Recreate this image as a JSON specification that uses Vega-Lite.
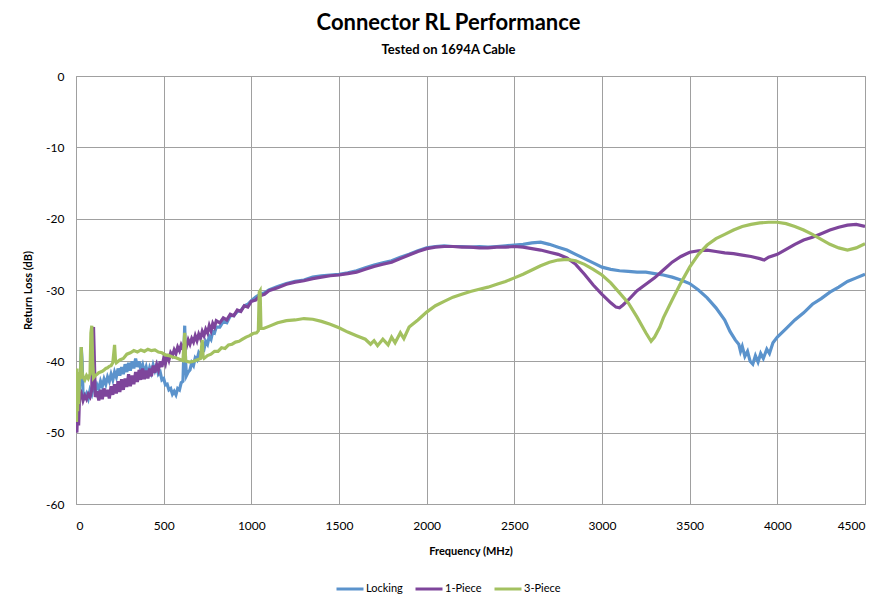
{
  "$schema": "https://vega.github.io/schema/vega-lite/v6.json",
  "width": 789,
  "height": 428,
  "autosize": "none",
  "padding": {"left": 76, "top": 76, "right": 26, "bottom": 99},
  "background": "white",
  "config": {
    "font": "Lato",
    "view": {"stroke": "#a0a0a0", "strokeWidth": 1}
  },
  "title": {
    "text": "Connector RL Performance",
    "subtitle": "Tested on 1694A Cable",
    "font": "Lato",
    "fontSize": 22,
    "fontWeight": "bold",
    "color": "black",
    "subtitleFont": "Lato",
    "subtitleFontSize": 13,
    "subtitleFontWeight": "bold",
    "subtitleColor": "black",
    "subtitlePadding": 9,
    "anchor": "middle",
    "dx": -22,
    "offset": 12
  },
  "data": {"values": [
    {"s":"Locking","f":0,"v":-43},{"s":"Locking","f":5,"v":-48},{"s":"Locking","f":10,"v":-44},{"s":"Locking","f":15,"v":-46},{"s":"Locking","f":20,"v":-43.5},{"s":"Locking","f":25,"v":-42},{"s":"Locking","f":30,"v":-38},{"s":"Locking","f":35,"v":-40},{"s":"Locking","f":40,"v":-44.5},{"s":"Locking","f":50,"v":-45},{"s":"Locking","f":60,"v":-44.5},{"s":"Locking","f":70,"v":-45.2},{"s":"Locking","f":80,"v":-44},{"s":"Locking","f":90,"v":-44.6},{"s":"Locking","f":100,"v":-43.5},{"s":"Locking","f":110,"v":-44.2},{"s":"Locking","f":120,"v":-43.3},{"s":"Locking","f":130,"v":-43.9},{"s":"Locking","f":140,"v":-42.8},{"s":"Locking","f":150,"v":-43.5},{"s":"Locking","f":160,"v":-42.5},{"s":"Locking","f":170,"v":-43.2},{"s":"Locking","f":180,"v":-42.2},{"s":"Locking","f":190,"v":-42.8},{"s":"Locking","f":200,"v":-41.8},{"s":"Locking","f":210,"v":-42.6},{"s":"Locking","f":220,"v":-41.5},{"s":"Locking","f":230,"v":-42.2},{"s":"Locking","f":240,"v":-41},{"s":"Locking","f":250,"v":-42},{"s":"Locking","f":260,"v":-40.8},{"s":"Locking","f":270,"v":-41.8},{"s":"Locking","f":280,"v":-40.4},{"s":"Locking","f":290,"v":-41.5},{"s":"Locking","f":300,"v":-40.2},{"s":"Locking","f":310,"v":-41.3},{"s":"Locking","f":320,"v":-40},{"s":"Locking","f":330,"v":-41},{"s":"Locking","f":340,"v":-39.6},{"s":"Locking","f":350,"v":-40.8},{"s":"Locking","f":360,"v":-40},{"s":"Locking","f":370,"v":-41.2},{"s":"Locking","f":380,"v":-40.5},{"s":"Locking","f":390,"v":-41.6},{"s":"Locking","f":400,"v":-40.8},{"s":"Locking","f":410,"v":-41.9},{"s":"Locking","f":420,"v":-40.9},{"s":"Locking","f":430,"v":-41.6},{"s":"Locking","f":440,"v":-40.5},{"s":"Locking","f":450,"v":-41.3},{"s":"Locking","f":460,"v":-40.6},{"s":"Locking","f":470,"v":-41.8},{"s":"Locking","f":480,"v":-41.5},{"s":"Locking","f":490,"v":-42.6},{"s":"Locking","f":500,"v":-42.4},{"s":"Locking","f":510,"v":-43.3},{"s":"Locking","f":520,"v":-43.2},{"s":"Locking","f":530,"v":-44},{"s":"Locking","f":540,"v":-43.8},{"s":"Locking","f":550,"v":-44.6},{"s":"Locking","f":560,"v":-44.2},{"s":"Locking","f":570,"v":-44.7},{"s":"Locking","f":580,"v":-43.8},{"s":"Locking","f":590,"v":-44},{"s":"Locking","f":600,"v":-43},{"s":"Locking","f":610,"v":-42.8},{"s":"Locking","f":620,"v":-35},{"s":"Locking","f":625,"v":-40},{"s":"Locking","f":630,"v":-42},{"s":"Locking","f":640,"v":-41.5},{"s":"Locking","f":650,"v":-41.2},{"s":"Locking","f":660,"v":-40.2},{"s":"Locking","f":670,"v":-40.6},{"s":"Locking","f":680,"v":-39.5},{"s":"Locking","f":690,"v":-39.8},{"s":"Locking","f":700,"v":-38.8},{"s":"Locking","f":710,"v":-39.2},{"s":"Locking","f":720,"v":-38},{"s":"Locking","f":730,"v":-38.3},{"s":"Locking","f":740,"v":-37.2},{"s":"Locking","f":750,"v":-37.6},{"s":"Locking","f":760,"v":-36.5},{"s":"Locking","f":770,"v":-36.9},{"s":"Locking","f":780,"v":-35.8},{"s":"Locking","f":790,"v":-36},{"s":"Locking","f":800,"v":-35.2},{"s":"Locking","f":820,"v":-35.2},{"s":"Locking","f":840,"v":-34.4},{"s":"Locking","f":860,"v":-34.6},{"s":"Locking","f":880,"v":-33.6},{"s":"Locking","f":900,"v":-33.6},{"s":"Locking","f":920,"v":-33},{"s":"Locking","f":940,"v":-32.9},{"s":"Locking","f":960,"v":-32.2},{"s":"Locking","f":980,"v":-32},{"s":"Locking","f":1000,"v":-31.5},{"s":"Locking","f":1025,"v":-31},{"s":"Locking","f":1050,"v":-30.6},{"s":"Locking","f":1075,"v":-30.4},{"s":"Locking","f":1100,"v":-30},{"s":"Locking","f":1150,"v":-29.5},{"s":"Locking","f":1200,"v":-29.1},{"s":"Locking","f":1250,"v":-28.8},{"s":"Locking","f":1300,"v":-28.6},{"s":"Locking","f":1350,"v":-28.2},{"s":"Locking","f":1400,"v":-28},{"s":"Locking","f":1450,"v":-27.9},{"s":"Locking","f":1500,"v":-27.8},{"s":"Locking","f":1550,"v":-27.6},{"s":"Locking","f":1600,"v":-27.3},{"s":"Locking","f":1650,"v":-26.9},{"s":"Locking","f":1700,"v":-26.5},{"s":"Locking","f":1750,"v":-26.2},{"s":"Locking","f":1800,"v":-25.9},{"s":"Locking","f":1850,"v":-25.4},{"s":"Locking","f":1900,"v":-25},{"s":"Locking","f":1950,"v":-24.5},{"s":"Locking","f":2000,"v":-24.1},{"s":"Locking","f":2050,"v":-23.9},{"s":"Locking","f":2100,"v":-23.8},{"s":"Locking","f":2150,"v":-23.9},{"s":"Locking","f":2200,"v":-23.9},{"s":"Locking","f":2250,"v":-24},{"s":"Locking","f":2300,"v":-23.9},{"s":"Locking","f":2350,"v":-24},{"s":"Locking","f":2400,"v":-23.9},{"s":"Locking","f":2450,"v":-23.8},{"s":"Locking","f":2500,"v":-23.7},{"s":"Locking","f":2550,"v":-23.6},{"s":"Locking","f":2600,"v":-23.4},{"s":"Locking","f":2650,"v":-23.3},{"s":"Locking","f":2700,"v":-23.6},{"s":"Locking","f":2750,"v":-24},{"s":"Locking","f":2800,"v":-24.4},{"s":"Locking","f":2850,"v":-25},{"s":"Locking","f":2900,"v":-25.6},{"s":"Locking","f":2950,"v":-26.2},{"s":"Locking","f":3000,"v":-26.8},{"s":"Locking","f":3050,"v":-27.1},{"s":"Locking","f":3100,"v":-27.3},{"s":"Locking","f":3150,"v":-27.4},{"s":"Locking","f":3200,"v":-27.5},{"s":"Locking","f":3250,"v":-27.5},{"s":"Locking","f":3300,"v":-27.7},{"s":"Locking","f":3350,"v":-27.9},{"s":"Locking","f":3400,"v":-28.2},{"s":"Locking","f":3450,"v":-28.6},{"s":"Locking","f":3500,"v":-29.1},{"s":"Locking","f":3550,"v":-30},{"s":"Locking","f":3600,"v":-31.1},{"s":"Locking","f":3650,"v":-32.5},{"s":"Locking","f":3700,"v":-34.2},{"s":"Locking","f":3730,"v":-35.8},{"s":"Locking","f":3760,"v":-37},{"s":"Locking","f":3780,"v":-37.6},{"s":"Locking","f":3790,"v":-38.6},{"s":"Locking","f":3800,"v":-37.9},{"s":"Locking","f":3815,"v":-39.3},{"s":"Locking","f":3830,"v":-38.6},{"s":"Locking","f":3845,"v":-40},{"s":"Locking","f":3860,"v":-40.4},{"s":"Locking","f":3875,"v":-39.2},{"s":"Locking","f":3890,"v":-40.1},{"s":"Locking","f":3905,"v":-38.9},{"s":"Locking","f":3920,"v":-39.6},{"s":"Locking","f":3940,"v":-38.3},{"s":"Locking","f":3955,"v":-38.9},{"s":"Locking","f":3975,"v":-37.4},{"s":"Locking","f":4000,"v":-36.6},{"s":"Locking","f":4050,"v":-35.4},{"s":"Locking","f":4100,"v":-34.2},{"s":"Locking","f":4150,"v":-33.2},{"s":"Locking","f":4200,"v":-32},{"s":"Locking","f":4250,"v":-31.2},{"s":"Locking","f":4300,"v":-30.3},{"s":"Locking","f":4350,"v":-29.6},{"s":"Locking","f":4400,"v":-28.8},{"s":"Locking","f":4450,"v":-28.3},{"s":"Locking","f":4500,"v":-27.8},

    {"s":"1-Piece","f":0,"v":-47},{"s":"1-Piece","f":5,"v":-50},{"s":"1-Piece","f":10,"v":-46},{"s":"1-Piece","f":15,"v":-49},{"s":"1-Piece","f":20,"v":-45},{"s":"1-Piece","f":30,"v":-44.5},{"s":"1-Piece","f":40,"v":-45.5},{"s":"1-Piece","f":50,"v":-44.8},{"s":"1-Piece","f":60,"v":-45.3},{"s":"1-Piece","f":70,"v":-44.6},{"s":"1-Piece","f":80,"v":-45},{"s":"1-Piece","f":90,"v":-44},{"s":"1-Piece","f":95,"v":-36},{"s":"1-Piece","f":100,"v":-35.2},{"s":"1-Piece","f":105,"v":-40},{"s":"1-Piece","f":110,"v":-45},{"s":"1-Piece","f":120,"v":-44.2},{"s":"1-Piece","f":130,"v":-45.5},{"s":"1-Piece","f":140,"v":-44},{"s":"1-Piece","f":150,"v":-45.3},{"s":"1-Piece","f":160,"v":-43.8},{"s":"1-Piece","f":170,"v":-44.9},{"s":"1-Piece","f":180,"v":-44},{"s":"1-Piece","f":190,"v":-45.2},{"s":"1-Piece","f":200,"v":-43.5},{"s":"1-Piece","f":210,"v":-44.7},{"s":"1-Piece","f":220,"v":-43.2},{"s":"1-Piece","f":230,"v":-44.5},{"s":"1-Piece","f":240,"v":-42.8},{"s":"1-Piece","f":250,"v":-44.3},{"s":"1-Piece","f":260,"v":-42.5},{"s":"1-Piece","f":270,"v":-44},{"s":"1-Piece","f":280,"v":-42.4},{"s":"1-Piece","f":290,"v":-43.6},{"s":"1-Piece","f":300,"v":-41.8},{"s":"1-Piece","f":310,"v":-43.5},{"s":"1-Piece","f":320,"v":-42},{"s":"1-Piece","f":330,"v":-43.2},{"s":"1-Piece","f":340,"v":-41.5},{"s":"1-Piece","f":350,"v":-42.9},{"s":"1-Piece","f":360,"v":-41.2},{"s":"1-Piece","f":370,"v":-42.6},{"s":"1-Piece","f":380,"v":-41},{"s":"1-Piece","f":390,"v":-42.5},{"s":"1-Piece","f":400,"v":-41.3},{"s":"1-Piece","f":410,"v":-42.4},{"s":"1-Piece","f":420,"v":-41},{"s":"1-Piece","f":430,"v":-42.1},{"s":"1-Piece","f":440,"v":-40.6},{"s":"1-Piece","f":450,"v":-41.6},{"s":"1-Piece","f":460,"v":-40.5},{"s":"1-Piece","f":470,"v":-41.2},{"s":"1-Piece","f":480,"v":-40},{"s":"1-Piece","f":490,"v":-40.8},{"s":"1-Piece","f":500,"v":-39.6},{"s":"1-Piece","f":510,"v":-40.3},{"s":"1-Piece","f":520,"v":-39},{"s":"1-Piece","f":530,"v":-39.8},{"s":"1-Piece","f":540,"v":-38.8},{"s":"1-Piece","f":550,"v":-39.2},{"s":"1-Piece","f":560,"v":-38.4},{"s":"1-Piece","f":570,"v":-38.9},{"s":"1-Piece","f":580,"v":-38},{"s":"1-Piece","f":590,"v":-38.5},{"s":"1-Piece","f":600,"v":-37.7},{"s":"1-Piece","f":610,"v":-38.2},{"s":"1-Piece","f":620,"v":-37.4},{"s":"1-Piece","f":630,"v":-37.9},{"s":"1-Piece","f":640,"v":-37},{"s":"1-Piece","f":650,"v":-37.6},{"s":"1-Piece","f":660,"v":-36.8},{"s":"1-Piece","f":670,"v":-37.3},{"s":"1-Piece","f":680,"v":-36.4},{"s":"1-Piece","f":690,"v":-37.1},{"s":"1-Piece","f":700,"v":-36.2},{"s":"1-Piece","f":710,"v":-36.8},{"s":"1-Piece","f":720,"v":-35.8},{"s":"1-Piece","f":730,"v":-36.4},{"s":"1-Piece","f":740,"v":-35.5},{"s":"1-Piece","f":750,"v":-36},{"s":"1-Piece","f":760,"v":-35},{"s":"1-Piece","f":770,"v":-35.7},{"s":"1-Piece","f":780,"v":-34.7},{"s":"1-Piece","f":790,"v":-35.2},{"s":"1-Piece","f":800,"v":-34.3},{"s":"1-Piece","f":820,"v":-34.6},{"s":"1-Piece","f":840,"v":-33.9},{"s":"1-Piece","f":860,"v":-34.2},{"s":"1-Piece","f":880,"v":-33.4},{"s":"1-Piece","f":900,"v":-33.6},{"s":"1-Piece","f":920,"v":-32.8},{"s":"1-Piece","f":940,"v":-33},{"s":"1-Piece","f":960,"v":-32.2},{"s":"1-Piece","f":980,"v":-32.4},{"s":"1-Piece","f":1000,"v":-31.6},{"s":"1-Piece","f":1025,"v":-31.4},{"s":"1-Piece","f":1050,"v":-30.8},{"s":"1-Piece","f":1075,"v":-30.6},{"s":"1-Piece","f":1100,"v":-30.1},{"s":"1-Piece","f":1150,"v":-29.7},{"s":"1-Piece","f":1200,"v":-29.2},{"s":"1-Piece","f":1250,"v":-28.9},{"s":"1-Piece","f":1300,"v":-28.7},{"s":"1-Piece","f":1350,"v":-28.4},{"s":"1-Piece","f":1400,"v":-28.2},{"s":"1-Piece","f":1450,"v":-28},{"s":"1-Piece","f":1500,"v":-27.9},{"s":"1-Piece","f":1550,"v":-27.7},{"s":"1-Piece","f":1600,"v":-27.5},{"s":"1-Piece","f":1650,"v":-27.1},{"s":"1-Piece","f":1700,"v":-26.7},{"s":"1-Piece","f":1750,"v":-26.4},{"s":"1-Piece","f":1800,"v":-26.1},{"s":"1-Piece","f":1850,"v":-25.6},{"s":"1-Piece","f":1900,"v":-25.1},{"s":"1-Piece","f":1950,"v":-24.6},{"s":"1-Piece","f":2000,"v":-24.2},{"s":"1-Piece","f":2050,"v":-24},{"s":"1-Piece","f":2100,"v":-23.9},{"s":"1-Piece","f":2150,"v":-23.9},{"s":"1-Piece","f":2200,"v":-24},{"s":"1-Piece","f":2250,"v":-24},{"s":"1-Piece","f":2300,"v":-24.1},{"s":"1-Piece","f":2350,"v":-24.1},{"s":"1-Piece","f":2400,"v":-24},{"s":"1-Piece","f":2450,"v":-24},{"s":"1-Piece","f":2500,"v":-23.9},{"s":"1-Piece","f":2550,"v":-24},{"s":"1-Piece","f":2600,"v":-24.2},{"s":"1-Piece","f":2650,"v":-24.4},{"s":"1-Piece","f":2700,"v":-24.7},{"s":"1-Piece","f":2750,"v":-25},{"s":"1-Piece","f":2800,"v":-25.5},{"s":"1-Piece","f":2850,"v":-26.4},{"s":"1-Piece","f":2900,"v":-27.8},{"s":"1-Piece","f":2950,"v":-29.3},{"s":"1-Piece","f":3000,"v":-30.6},{"s":"1-Piece","f":3050,"v":-31.8},{"s":"1-Piece","f":3080,"v":-32.4},{"s":"1-Piece","f":3100,"v":-32.5},{"s":"1-Piece","f":3120,"v":-32.1},{"s":"1-Piece","f":3150,"v":-31.4},{"s":"1-Piece","f":3200,"v":-30.1},{"s":"1-Piece","f":3250,"v":-29.2},{"s":"1-Piece","f":3300,"v":-28.3},{"s":"1-Piece","f":3350,"v":-27.2},{"s":"1-Piece","f":3400,"v":-26.1},{"s":"1-Piece","f":3450,"v":-25.3},{"s":"1-Piece","f":3500,"v":-24.7},{"s":"1-Piece","f":3550,"v":-24.5},{"s":"1-Piece","f":3600,"v":-24.4},{"s":"1-Piece","f":3650,"v":-24.6},{"s":"1-Piece","f":3700,"v":-24.8},{"s":"1-Piece","f":3750,"v":-24.9},{"s":"1-Piece","f":3800,"v":-25.1},{"s":"1-Piece","f":3850,"v":-25.3},{"s":"1-Piece","f":3900,"v":-25.6},{"s":"1-Piece","f":3925,"v":-25.8},{"s":"1-Piece","f":3950,"v":-25.4},{"s":"1-Piece","f":4000,"v":-25},{"s":"1-Piece","f":4050,"v":-24.3},{"s":"1-Piece","f":4100,"v":-23.6},{"s":"1-Piece","f":4150,"v":-23},{"s":"1-Piece","f":4200,"v":-22.6},{"s":"1-Piece","f":4250,"v":-22.1},{"s":"1-Piece","f":4300,"v":-21.6},{"s":"1-Piece","f":4350,"v":-21.2},{"s":"1-Piece","f":4400,"v":-20.9},{"s":"1-Piece","f":4450,"v":-20.8},{"s":"1-Piece","f":4500,"v":-21.1},

    {"s":"3-Piece","f":0,"v":-42},{"s":"3-Piece","f":3,"v":-48.5},{"s":"3-Piece","f":6,"v":-41},{"s":"3-Piece","f":9,"v":-47},{"s":"3-Piece","f":12,"v":-43},{"s":"3-Piece","f":15,"v":-46},{"s":"3-Piece","f":20,"v":-41.5},{"s":"3-Piece","f":25,"v":-42.5},{"s":"3-Piece","f":30,"v":-38},{"s":"3-Piece","f":35,"v":-41.5},{"s":"3-Piece","f":40,"v":-42.2},{"s":"3-Piece","f":50,"v":-42.6},{"s":"3-Piece","f":60,"v":-42},{"s":"3-Piece","f":70,"v":-42.4},{"s":"3-Piece","f":80,"v":-41.8},{"s":"3-Piece","f":85,"v":-36},{"s":"3-Piece","f":90,"v":-35},{"s":"3-Piece","f":95,"v":-40},{"s":"3-Piece","f":100,"v":-42.3},{"s":"3-Piece","f":110,"v":-42},{"s":"3-Piece","f":120,"v":-41.8},{"s":"3-Piece","f":130,"v":-41.6},{"s":"3-Piece","f":140,"v":-41.5},{"s":"3-Piece","f":150,"v":-41.4},{"s":"3-Piece","f":160,"v":-41.2},{"s":"3-Piece","f":170,"v":-41},{"s":"3-Piece","f":180,"v":-40.9},{"s":"3-Piece","f":190,"v":-40.7},{"s":"3-Piece","f":200,"v":-40.6},{"s":"3-Piece","f":210,"v":-40.2},{"s":"3-Piece","f":220,"v":-37.7},{"s":"3-Piece","f":225,"v":-39.8},{"s":"3-Piece","f":230,"v":-40.2},{"s":"3-Piece","f":250,"v":-39.8},{"s":"3-Piece","f":270,"v":-39.6},{"s":"3-Piece","f":290,"v":-39},{"s":"3-Piece","f":310,"v":-38.8},{"s":"3-Piece","f":330,"v":-38.5},{"s":"3-Piece","f":350,"v":-38.7},{"s":"3-Piece","f":370,"v":-38.4},{"s":"3-Piece","f":390,"v":-38.6},{"s":"3-Piece","f":410,"v":-38.3},{"s":"3-Piece","f":430,"v":-38.5},{"s":"3-Piece","f":450,"v":-38.4},{"s":"3-Piece","f":470,"v":-38.7},{"s":"3-Piece","f":490,"v":-38.8},{"s":"3-Piece","f":510,"v":-39.1},{"s":"3-Piece","f":530,"v":-39.2},{"s":"3-Piece","f":550,"v":-39.4},{"s":"3-Piece","f":570,"v":-39.5},{"s":"3-Piece","f":590,"v":-39.7},{"s":"3-Piece","f":610,"v":-39.9},{"s":"3-Piece","f":620,"v":-36},{"s":"3-Piece","f":625,"v":-39.8},{"s":"3-Piece","f":630,"v":-40},{"s":"3-Piece","f":650,"v":-40.1},{"s":"3-Piece","f":670,"v":-40},{"s":"3-Piece","f":690,"v":-39.8},{"s":"3-Piece","f":710,"v":-39.6},{"s":"3-Piece","f":720,"v":-37},{"s":"3-Piece","f":725,"v":-39.4},{"s":"3-Piece","f":730,"v":-39.6},{"s":"3-Piece","f":750,"v":-39.2},{"s":"3-Piece","f":770,"v":-39},{"s":"3-Piece","f":790,"v":-38.6},{"s":"3-Piece","f":810,"v":-38.6},{"s":"3-Piece","f":830,"v":-38.1},{"s":"3-Piece","f":850,"v":-38.2},{"s":"3-Piece","f":870,"v":-37.7},{"s":"3-Piece","f":890,"v":-37.6},{"s":"3-Piece","f":910,"v":-37.3},{"s":"3-Piece","f":930,"v":-37.2},{"s":"3-Piece","f":950,"v":-36.9},{"s":"3-Piece","f":970,"v":-36.6},{"s":"3-Piece","f":990,"v":-36.4},{"s":"3-Piece","f":1010,"v":-36.1},{"s":"3-Piece","f":1030,"v":-36},{"s":"3-Piece","f":1040,"v":-35.7},{"s":"3-Piece","f":1045,"v":-30.3},{"s":"3-Piece","f":1050,"v":-30.1},{"s":"3-Piece","f":1055,"v":-35.4},{"s":"3-Piece","f":1070,"v":-35.4},{"s":"3-Piece","f":1100,"v":-35.1},{"s":"3-Piece","f":1150,"v":-34.6},{"s":"3-Piece","f":1200,"v":-34.3},{"s":"3-Piece","f":1250,"v":-34.2},{"s":"3-Piece","f":1300,"v":-34},{"s":"3-Piece","f":1350,"v":-34.1},{"s":"3-Piece","f":1400,"v":-34.4},{"s":"3-Piece","f":1450,"v":-34.8},{"s":"3-Piece","f":1500,"v":-35.3},{"s":"3-Piece","f":1550,"v":-35.9},{"s":"3-Piece","f":1600,"v":-36.4},{"s":"3-Piece","f":1650,"v":-36.9},{"s":"3-Piece","f":1680,"v":-37.6},{"s":"3-Piece","f":1700,"v":-37.1},{"s":"3-Piece","f":1720,"v":-37.8},{"s":"3-Piece","f":1750,"v":-36.9},{"s":"3-Piece","f":1780,"v":-37.7},{"s":"3-Piece","f":1800,"v":-36.6},{"s":"3-Piece","f":1820,"v":-37.4},{"s":"3-Piece","f":1850,"v":-36},{"s":"3-Piece","f":1870,"v":-36.8},{"s":"3-Piece","f":1900,"v":-35.2},{"s":"3-Piece","f":1950,"v":-34.2},{"s":"3-Piece","f":2000,"v":-33.1},{"s":"3-Piece","f":2050,"v":-32.2},{"s":"3-Piece","f":2100,"v":-31.6},{"s":"3-Piece","f":2150,"v":-31},{"s":"3-Piece","f":2200,"v":-30.6},{"s":"3-Piece","f":2250,"v":-30.2},{"s":"3-Piece","f":2300,"v":-29.9},{"s":"3-Piece","f":2350,"v":-29.6},{"s":"3-Piece","f":2400,"v":-29.2},{"s":"3-Piece","f":2450,"v":-28.8},{"s":"3-Piece","f":2500,"v":-28.3},{"s":"3-Piece","f":2550,"v":-27.8},{"s":"3-Piece","f":2600,"v":-27.2},{"s":"3-Piece","f":2650,"v":-26.6},{"s":"3-Piece","f":2700,"v":-26.1},{"s":"3-Piece","f":2750,"v":-25.8},{"s":"3-Piece","f":2800,"v":-25.7},{"s":"3-Piece","f":2850,"v":-25.9},{"s":"3-Piece","f":2900,"v":-26.4},{"s":"3-Piece","f":2950,"v":-27.1},{"s":"3-Piece","f":3000,"v":-27.9},{"s":"3-Piece","f":3050,"v":-29},{"s":"3-Piece","f":3100,"v":-30.4},{"s":"3-Piece","f":3150,"v":-31.8},{"s":"3-Piece","f":3200,"v":-33.8},{"s":"3-Piece","f":3250,"v":-36},{"s":"3-Piece","f":3280,"v":-37.2},{"s":"3-Piece","f":3300,"v":-36.6},{"s":"3-Piece","f":3330,"v":-35.2},{"s":"3-Piece","f":3350,"v":-33.9},{"s":"3-Piece","f":3400,"v":-31.4},{"s":"3-Piece","f":3450,"v":-29},{"s":"3-Piece","f":3500,"v":-26.8},{"s":"3-Piece","f":3550,"v":-25},{"s":"3-Piece","f":3600,"v":-23.7},{"s":"3-Piece","f":3650,"v":-22.8},{"s":"3-Piece","f":3700,"v":-22.2},{"s":"3-Piece","f":3750,"v":-21.6},{"s":"3-Piece","f":3800,"v":-21.1},{"s":"3-Piece","f":3850,"v":-20.8},{"s":"3-Piece","f":3900,"v":-20.6},{"s":"3-Piece","f":3950,"v":-20.5},{"s":"3-Piece","f":4000,"v":-20.5},{"s":"3-Piece","f":4050,"v":-20.7},{"s":"3-Piece","f":4100,"v":-21.1},{"s":"3-Piece","f":4150,"v":-21.6},{"s":"3-Piece","f":4200,"v":-22.2},{"s":"3-Piece","f":4250,"v":-22.9},{"s":"3-Piece","f":4300,"v":-23.6},{"s":"3-Piece","f":4350,"v":-24.1},{"s":"3-Piece","f":4400,"v":-24.4},{"s":"3-Piece","f":4450,"v":-24.1},{"s":"3-Piece","f":4500,"v":-23.5}
  ]},
  "mark": {"type": "line", "strokeWidth": 3.2, "clip": true},
  "encoding": {
    "x": {
      "field": "f", "type": "quantitative",
      "scale": {"domain": [0, 4500], "nice": false},
      "axis": {
        "title": "Frequency (MHz)",
        "values": [0, 500, 1000, 1500, 2000, 2500, 3000, 3500, 4000, 4500],
        "labelExpr": "datum.value + ''",
        "domain": false, "ticks": false,
        "labelFont": "Lato", "labelFontSize": 12, "labelColor": "black", "labelPadding": 16,
        "titleFont": "Lato", "titleFontSize": 11, "titleFontWeight": "bold", "titleColor": "black", "titlePadding": 14,
        "grid": true, "gridColor": "#a0a0a0", "gridWidth": 1
      }
    },
    "y": {
      "field": "v", "type": "quantitative",
      "scale": {"domain": [-60, 0], "nice": false},
      "axis": {
        "title": "Return Loss (dB)",
        "values": [-60, -50, -40, -30, -20, -10, 0],
        "labelExpr": "datum.value + ''",
        "domain": false, "ticks": false,
        "labelFont": "Lato", "labelFontSize": 12, "labelColor": "black", "labelPadding": 12,
        "titleFont": "Lato", "titleFontSize": 11, "titleFontWeight": "bold", "titleColor": "black", "titlePadding": 12,
        "grid": true, "gridColor": "#a0a0a0", "gridWidth": 1
      }
    },
    "color": {
      "field": "s", "type": "nominal",
      "scale": {"domain": ["Locking", "1-Piece", "3-Piece"], "range": ["#5b93cc", "#7e459b", "#a3c160"]},
      "legend": {
        "title": null,
        "orient": "none",
        "direction": "horizontal",
        "legendX": 259,
        "legendY": 498,
        "symbolType": "stroke",
        "symbolSize": 729,
        "symbolStrokeWidth": 3,
        "labelFont": "Lato",
        "labelFontSize": 11,
        "labelColor": "black",
        "labelOffset": 1,
        "columnPadding": 6
      }
    },
    "order": {"field": "f", "type": "quantitative"}
  }
}
